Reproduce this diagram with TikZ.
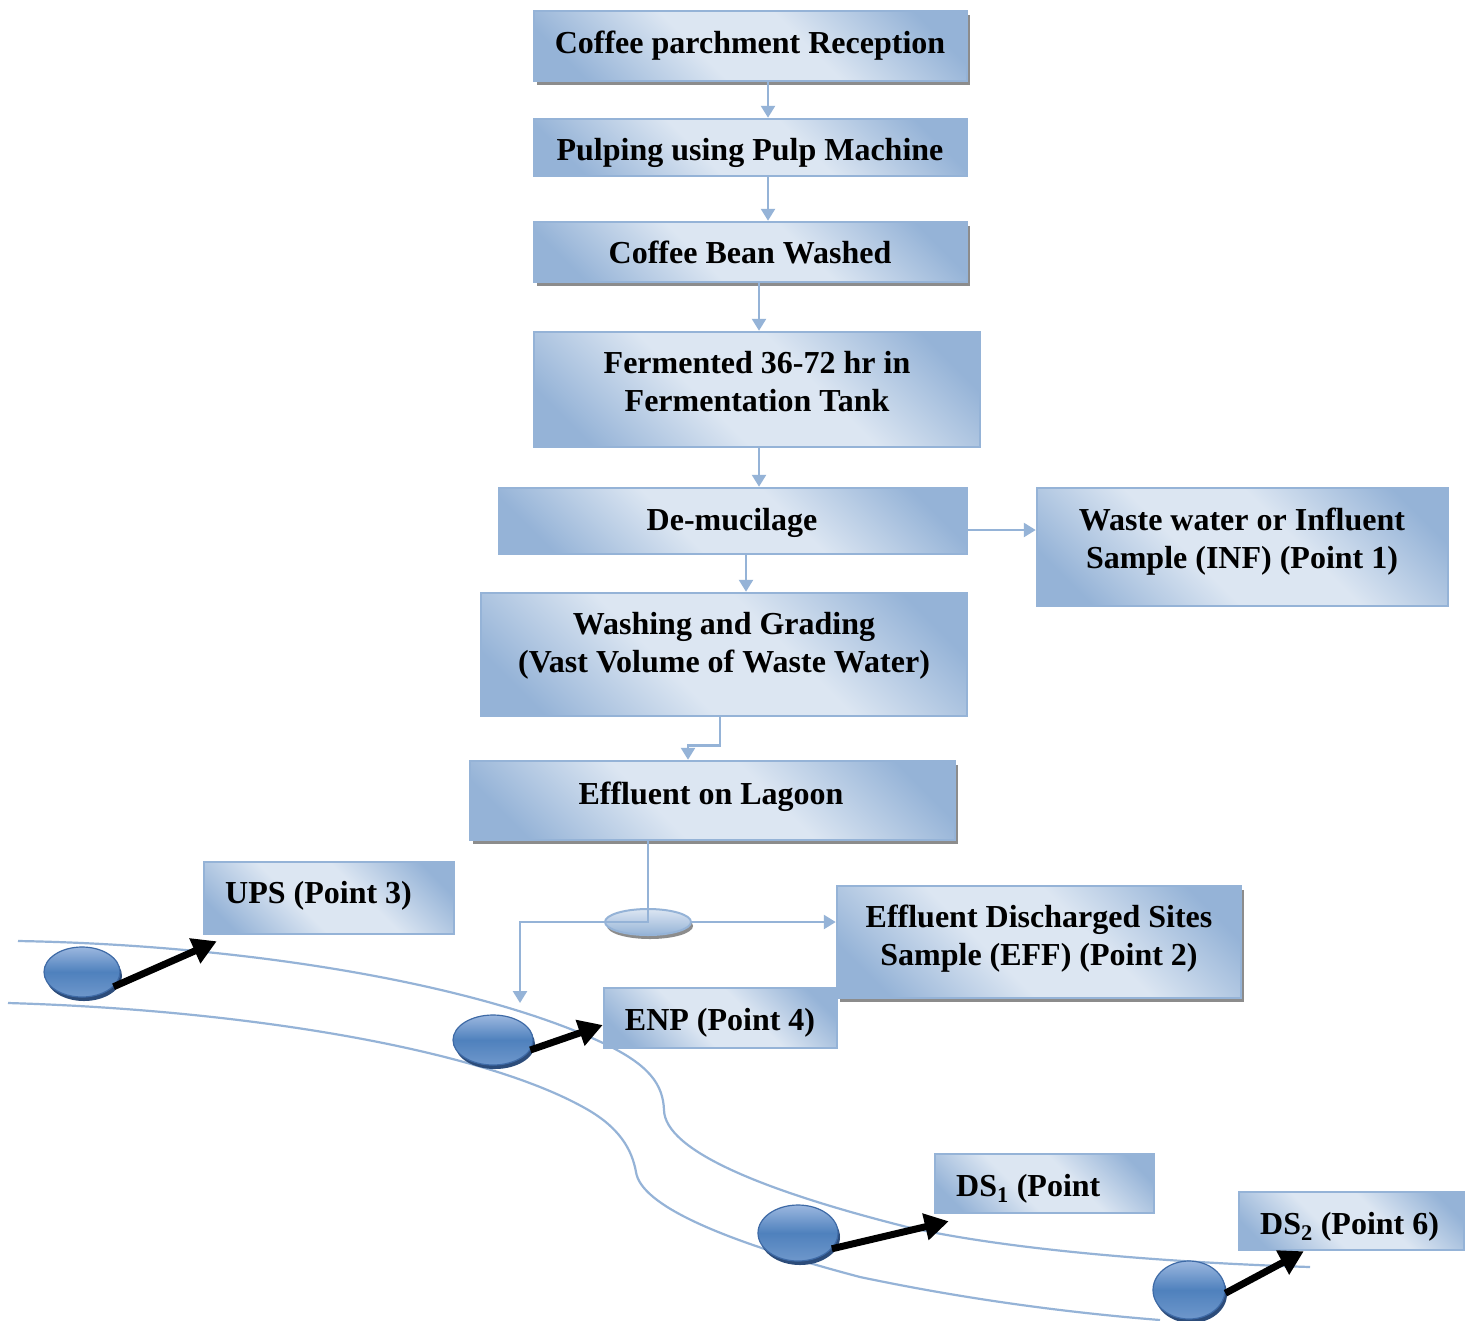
\documentclass[tikz,border=0pt]{standalone}
\usepackage{fontspec}
\setmainfont{Liberation Serif}
\usetikzlibrary{arrows.meta,shadows,shapes.geometric}
\definecolor{edgeblue}{HTML}{95B3D7}
\definecolor{liteblue}{HTML}{DCE6F2}
\definecolor{darkbox}{HTML}{95B3D7}
\definecolor{discmid}{HTML}{4F81BD}
\definecolor{disctop}{HTML}{9BB7DF}
\definecolor{discbot}{HTML}{6E97CB}
\definecolor{discedge}{HTML}{3E6AA6}
\definecolor{discshadow}{HTML}{2C4C7A}
\definecolor{shadowgray}{HTML}{8C8C8C}
\pgfdeclarehorizontalshading{boxshade}{100bp}{color(0bp)=(darkbox); color(22bp)=(darkbox);
  color(42bp)=(liteblue); color(58bp)=(liteblue); color(78bp)=(darkbox); color(100bp)=(darkbox)}
\begin{document}
\begin{tikzpicture}[x=1pt,y=-1pt,
  box/.style={draw=edgeblue, line width=2.5pt, shade, shading=boxshade, shading angle=45, inner sep=0pt},
  shbox/.style={box, general shadow={shadow xshift=3pt, shadow yshift=-4pt, fill=shadowgray}},
  lbl/.style={font=\bfseries\fontsize{32}{38}\selectfont, align=center, inner sep=0pt, anchor=base},
  lblw/.style={lbl, anchor=base west},
  flow/.style={draw=edgeblue, line width=2.5pt, -{Triangle[width=14pt,length=12pt]}},
  blk/.style={line width=7pt, -{Triangle[width=26pt,length=24pt]}},
  bank/.style={draw=edgeblue, line width=2.2pt},
  disc/.style={ellipse, draw=discedge, line width=1.2pt, top color=disctop, bottom color=discbot,
    middle color=discmid, inner sep=0pt,
    general shadow={shadow xshift=2pt, shadow yshift=-4pt, fill=discshadow}},
  lagoon/.style={ellipse, draw=edgeblue, line width=2pt, top color=liteblue, bottom color=darkbox,
    inner sep=0pt, general shadow={shadow xshift=2pt, shadow yshift=-4pt, fill=shadowgray}}
]
\useasboundingbox[fill=white] (0,0) rectangle (1471,1320);

% river banks
\draw[bank] (18,941) .. controls (250,945) and (480,985) .. (603,1043)
  .. controls (650,1065) and (663,1085) .. (664,1110)
  .. controls (665,1150) and (760,1190) .. (907,1227)
  .. controls (1000,1248) and (1150,1262) .. (1310,1267);
\draw[bank] (8,1003) .. controls (250,1010) and (480,1050) .. (583,1107)
  .. controls (620,1127) and (632,1150) .. (636,1172)
  .. controls (641,1205) and (720,1240) .. (860,1277)
  .. controls (960,1298) and (1060,1312) .. (1160,1320);

% boxes
\node[shbox, minimum width=433pt, minimum height=70pt] (b1) at (750.5,46) {};
\node[box,   minimum width=433pt, minimum height=57pt] (b2) at (750.5,147.5) {};
\node[shbox, minimum width=433pt, minimum height=60pt] (b3) at (750.5,252) {};
\node[box,   minimum width=446pt, minimum height=115pt] (b4) at (757,389.5) {};
\node[box,   minimum width=468pt, minimum height=66pt] (b5) at (733,521) {};
\node[box,   minimum width=411pt, minimum height=118pt] (b6) at (1242.5,547) {};
\node[box,   minimum width=486pt, minimum height=123pt] (b7) at (724,654.5) {};
\node[shbox, minimum width=485pt, minimum height=79pt] (b8) at (712.5,800.5) {};
\node[box,   minimum width=250pt, minimum height=72pt] (ups) at (329,898) {};
\node[shbox, minimum width=404pt, minimum height=112pt] (b10) at (1039,942) {};
\node[box,   minimum width=233pt, minimum height=60pt] (enp) at (720.5,1018) {};
\node[box,   minimum width=219pt, minimum height=59pt] (ds1) at (1044.5,1183.5) {};
\node[box,   minimum width=225pt, minimum height=58pt] (ds2) at (1351.5,1221) {};

% labels (multi-line: anchor is baseline of last line)
\node[lbl] (t1) at (750,53) {Coffee parchment Reception};
\node[lbl] (t2) at (750,160) {Pulping using Pulp Machine};
\node[lbl] (t3) at (750,263) {Coffee Bean Washed};
\node[lbl] (t4) at (757,411) {Fermented 36-72 hr in\\Fermentation Tank};
\node[lbl] (t5) at (732,530) {De-mucilage};
\node[lbl] (t6) at (1242,568) {Waste water or Influent\\Sample (INF) (Point 1)};
\node[lbl] (t7) at (724,672) {Washing and Grading\\(Vast Volume of Waste Water)};
\node[lbl] (t8) at (711,804) {Effluent on Lagoon};
\node[lblw] (tups) at (225,903) {UPS (Point 3)};
\node[lbl] (t10) at (1039,965) {Effluent Discharged Sites\\Sample (EFF) (Point 2)};
\node[lbl] (tenp) at (720,1030) {ENP (Point 4)};
\node[lblw] (tds1) at (956,1196) {DS\textsubscript{1} (Point};
\node[lblw] (tds2) at (1260,1234) {DS\textsubscript{2} (Point 6)};

% lagoon outlet
\node[lagoon, minimum width=86pt, minimum height=26pt] (lag) at (648,922) {};
\coordinate (riv) at (520,1003);

% flow connectors
\draw[flow] ([xshift=17.5pt]b1.south) -- ([xshift=17.5pt]b2.north);
\draw[flow] ([xshift=17.5pt]b2.south) -- ([xshift=17.5pt]b3.north);
\draw[flow] ([xshift=8.5pt]b3.south) -- ([xshift=2pt]b4.north);
\draw[flow] ([xshift=2pt]b4.south) -- ([xshift=26pt]b5.north);
\draw[flow] ([yshift=-9pt]b5.east) -- ([yshift=-9pt]b5.east -| b6.west);
\draw[flow] ([xshift=13pt]b5.south) -- ([xshift=22pt]b7.north);
\draw[flow] ([xshift=-4pt]b7.south) -- ++(0,28) -| ([xshift=-24.5pt]b8.north);
\draw[flow] ([xshift=-64.5pt]b8.south) -- (lag.center) -| (riv);
\draw[flow] (lag.east) -- (lag.east -| b10.west);

% sampling points
\node[disc, minimum width=76pt, minimum height=50pt] (e1) at (82,972) {};
\node[disc, minimum width=80pt, minimum height=50pt] (e2) at (493,1040) {};
\node[disc, minimum width=80pt, minimum height=56pt] (e3) at (798,1233) {};
\node[disc, minimum width=72pt, minimum height=58pt] (e4) at (1189,1290) {};

\draw[blk] (e1.-25) -- ([shift={(14pt,-6pt)}]ups.south west);
\draw[blk] (e2.-15) -- ([yshift=-7pt]enp.west);
\draw[blk] (e3.-25) -- ([shift={(15pt,-7pt)}]ds1.south west);
\draw[blk] (e4.-5) -- ([xshift=66pt]ds2.south west);
\end{tikzpicture}
\end{document}
